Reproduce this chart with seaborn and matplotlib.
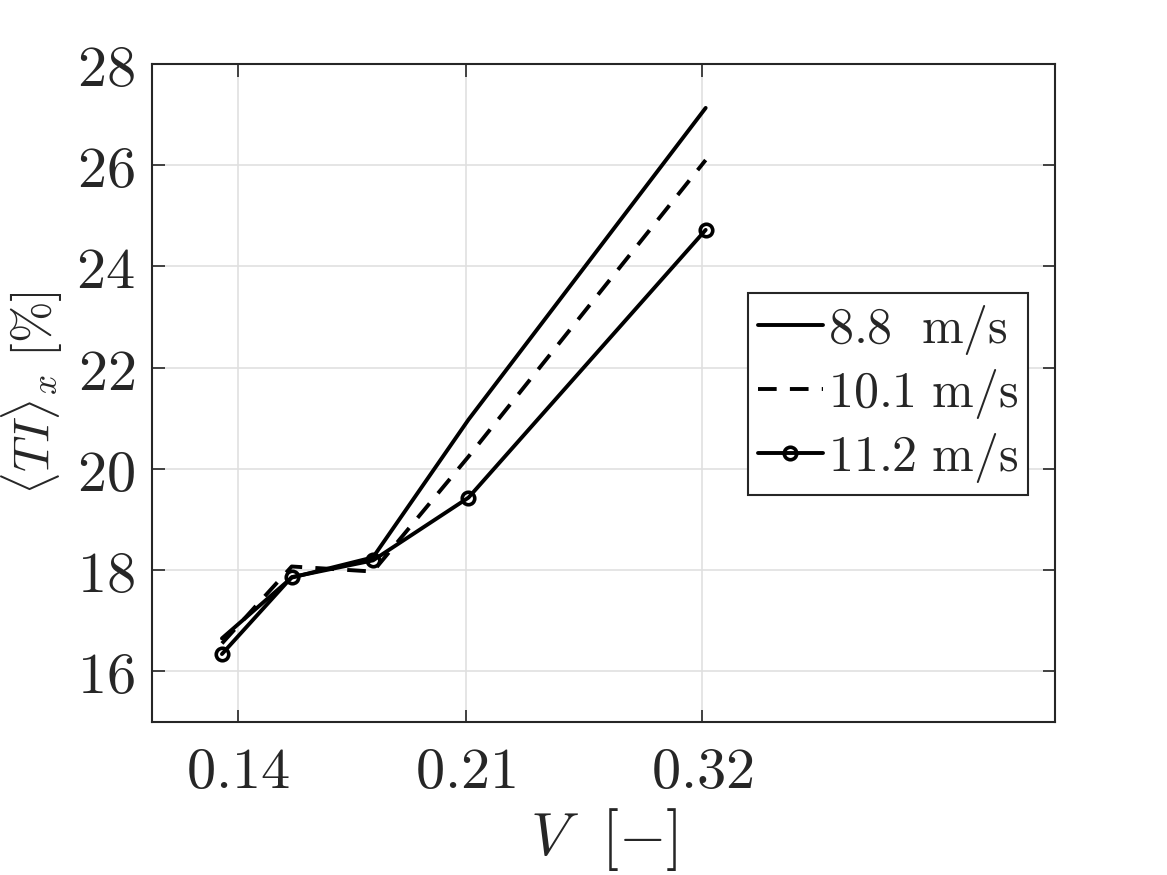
import numpy as np
import pandas as pd
import seaborn as sns
import matplotlib.pyplot as plt

# datos
v = [0.136, 0.154, 0.178, 0.211, 0.322]
ti_88 = [16.65, 17.85, 18.25, 20.97, 27.13]
ti_101 = [16.55, 18.07, 17.97, 20.24, 26.10]
ti_112 = [16.34, 17.86, 18.19, 19.43, 24.72]
etiquetas = [r'$8.8\ \ \mathrm{m/s}$', r'$10.1\ \mathrm{m/s}$', r'$11.2\ \mathrm{m/s}$']
xticks = [0.14, 0.21, 0.32]
yticks = [16, 18, 20, 22, 24, 26, 28]

sns.set_style("whitegrid")
plt.rcParams['mathtext.fontset'] = 'cm'
plt.rcParams['font.family'] = ['DejaVu Serif']
plt.rcParams['grid.color'] = '#e0e0e0'
plt.rcParams['grid.linewidth'] = 1.2

gris = '#262626'
fig = plt.figure(figsize=(11.67, 8.75), dpi=100)
ax = fig.add_axes([0.130, 0.175, 0.774, 0.752])

estilos = [dict(linestyle='-'),
           dict(linestyle=(0, (4.8, 3.4))),
           dict(linestyle='-', marker='o', markersize=9, markerfacecolor='none',
                markeredgecolor='black', markeredgewidth=2.6)]
for serie, lab, est in zip([ti_88, ti_101, ti_112], etiquetas, estilos):
    df = pd.DataFrame({'V': v, 'TI': serie})
    sns.lineplot(data=df, x='V', y='TI', ax=ax, color='black', linewidth=2.8,
                 label=lab, **est)

ax.set_xscale('log')
ax.set_xlim(0.120, 0.60)
ax.set_ylim(15, 28)
ax.minorticks_off()
ax.set_xticks(xticks)
ax.set_xticklabels([r'$%.2f$' % t for t in xticks])
ax.set_yticks(yticks)
ax.set_yticklabels([r'$%d$' % t for t in yticks])
ax.tick_params(direction='in', length=9, width=1.2, colors=gris, labelsize=42,
               top=True, right=True, bottom=True, left=True)
ax.tick_params(axis='x', pad=16)
ax.tick_params(axis='y', pad=12)
for s in ax.spines.values():
    s.set_color(gris)
    s.set_linewidth(1.5)
ax.grid(True, which='major')

ax.set_xlabel(r'$V\ \ [-]$', fontsize=44, color=gris, labelpad=4)
ax.set_ylabel(r'$\langle TI \rangle_x\ [\%]$', fontsize=36, color=gris, labelpad=8)

leg = ax.legend(loc='upper left', bbox_to_anchor=(0.66, 0.652), borderaxespad=0,
                fontsize=36, frameon=True, fancybox=False, framealpha=1,
                edgecolor=gris, handlelength=1.3, handletextpad=0.1,
                borderpad=0.2, labelspacing=0.2)
leg.get_frame().set_linewidth(1.5)

plt.savefig('out.png', dpi=100)
